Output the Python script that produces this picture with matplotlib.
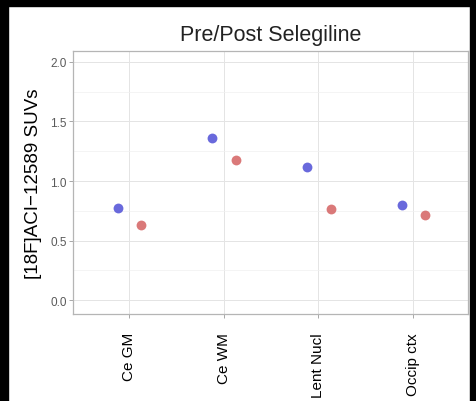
import numpy as np
import matplotlib
matplotlib.use("Agg")
import matplotlib.pyplot as plt
from matplotlib.patches import Rectangle
from matplotlib.ticker import MultipleLocator

regions = ["Ce GM", "Ce WM", "Lent Nucl", "Occip ctx"]
pre_suv = [0.775, 1.36, 1.12, 0.80]
post_suv = [0.635, 1.175, 0.765, 0.715]

plt.rcParams["font.family"] = ["Liberation Sans", "DejaVu Sans"]

fig = plt.figure(figsize=(4.77, 4.02), dpi=100)
W, H = 477, 402
ax = fig.add_axes([73 / W, 1 - 315 / H, 395 / W, 263 / H])

x = np.arange(1, len(regions) + 1)
ax.scatter(x - 0.12, pre_suv, s=50, color="#4f4fd6", alpha=0.85, lw=0, zorder=3)
ax.scatter(x + 0.13, post_suv, s=50, color="#d46262", alpha=0.85, lw=0, zorder=3)

ax.set_xlim(0.41, 4.58)
ax.set_ylim(-0.115, 2.09)
ax.set_xticks(x)
ax.set_xticklabels(regions, rotation=90, fontsize=11, color="black")
ax.yaxis.set_major_locator(MultipleLocator(0.5))
ax.yaxis.set_minor_locator(MultipleLocator(0.25))
ax.set_yticklabels([f"{v:.1f}" for v in ax.get_yticks()])
ax.tick_params(axis="y", labelsize=8.5, labelcolor="#5a5a5a", colors="#9a9a9a",
               length=3, width=0.6, pad=1.5)
ax.tick_params(axis="y", which="minor", length=0)
ax.tick_params(axis="x", colors="#9a9a9a", labelcolor="black", length=3, width=0.6, pad=10)

ax.grid(True, which="major", color="#e4e4e4", lw=0.7)
ax.grid(True, which="minor", axis="y", color="#f0f0f0", lw=0.5)
ax.set_axisbelow(True)
for sp in ax.spines.values():
    sp.set_color("#b5b5b5")
    sp.set_linewidth(0.9)

ax.set_ylabel("[18F]ACI\u221212589 SUVs", fontsize=13.5, color="black")
ax.yaxis.set_label_coords(-0.078, 0.5)
ax.set_title("Pre/Post Selegiline", fontsize=15.5, color="#222222", pad=8)

# black frame around the cropped screenshot
for rx, ry, rw, rh in [(0, 1 - 7 / H, 1, 7 / H), (0, 0, 8 / W, 1), (1 - 7 / W, 0, 7 / W, 1)]:
    fig.patches.append(Rectangle((rx, ry), rw, rh, transform=fig.transFigure,
                                 color="black", zorder=10))

fig.savefig("out.png", dpi=100)
